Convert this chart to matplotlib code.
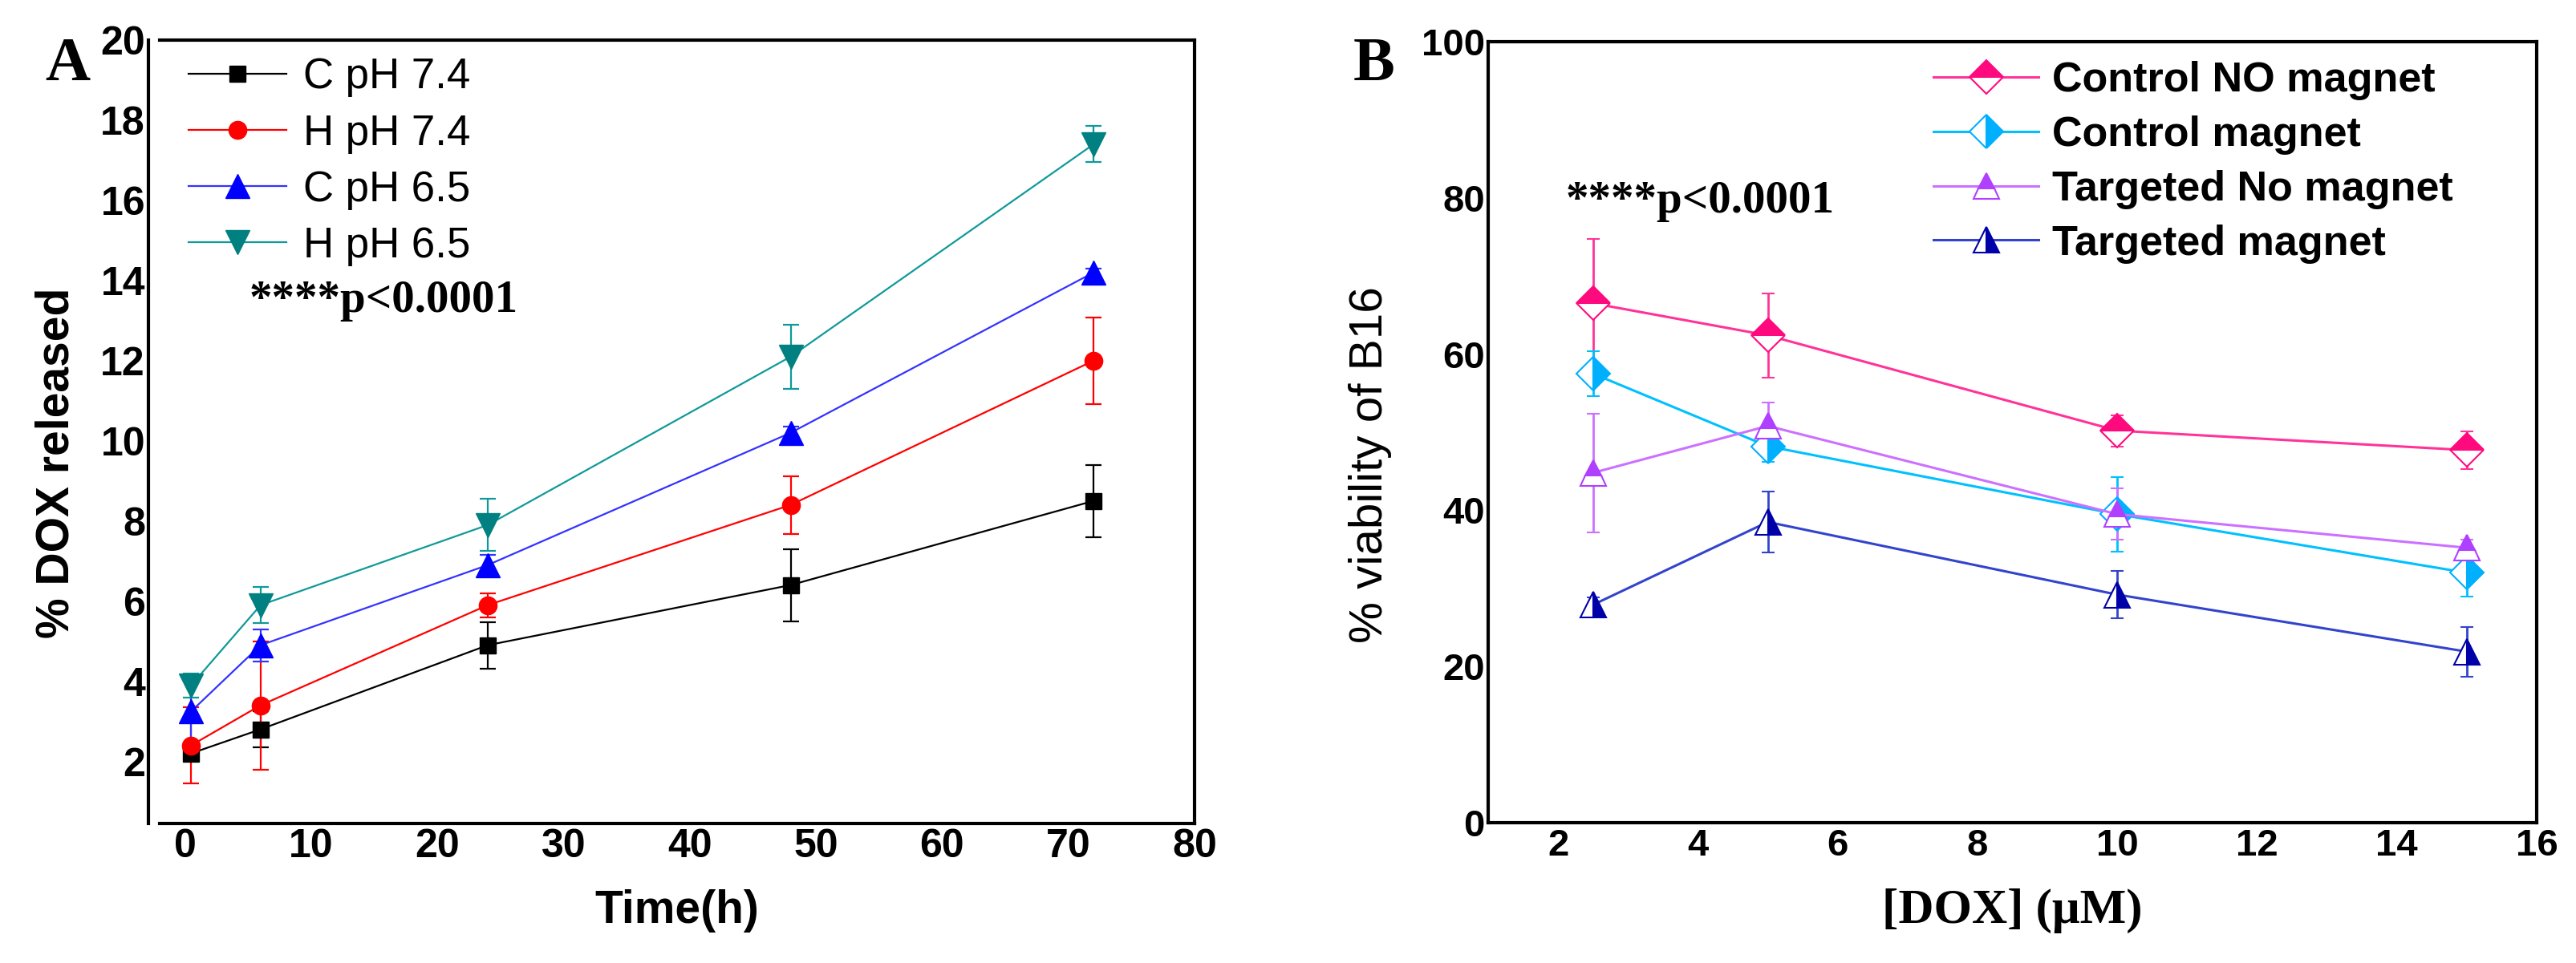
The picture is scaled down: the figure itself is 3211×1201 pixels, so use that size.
import numpy as np
import matplotlib
matplotlib.use('Agg')
import matplotlib.pyplot as plt

W, H = 3211, 1201

# ---- panel A: DOX release vs time
time_h = [0.5, 6, 24, 48, 72]
release_labels = ['C pH 7.4', 'H pH 7.4', 'C pH 6.5', 'H pH 6.5']
c_74 = [2.2, 2.8, 4.9, 6.4, 8.5]
c_74_err = [0.1, 0.45, 0.58, 0.9, 0.9]
h_74 = [2.4, 3.4, 5.9, 8.4, 12.0]
h_74_err = [0.95, 1.6, 0.3, 0.72, 1.08]
c_65 = [3.25, 4.9, 6.9, 10.2, 14.2]
c_65_err = [0.87, 0.4, 0.25, 0.15, 0.1]
h_65 = [3.9, 5.9, 7.9, 12.1, 17.4]
h_65_err = [0.3, 0.45, 0.65, 0.8, 0.45]

# ---- panel B: viability of B16 vs DOX concentration
dox_um = [2.5, 5, 10, 15]
viab_labels = ['Control NO magnet', 'Control magnet', 'Targeted No magnet', 'Targeted magnet']
ctrl_no = [66.5, 62.4, 50.2, 47.7]
ctrl_no_err = [8.2, 5.4, 2.0, 2.4]
ctrl_mag = [57.5, 48.2, 39.5, 32.0]
ctrl_mag_err = [2.9, 2.0, 4.8, 3.0]
targ_no = [44.8, 50.8, 39.5, 35.2]
targ_no_err = [7.6, 3.0, 3.3, 1.0]
targ_mag = [27.9, 38.5, 29.2, 21.9]
targ_mag_err = [1.0, 3.9, 3.0, 3.2]

SANS = 'Liberation Sans'
SERIF = 'Liberation Serif'

fig = plt.figure(figsize=(W / 100, H / 100), dpi=100)

def px_axes(x0, y0, x1, y1):
    return fig.add_axes([x0 / W, 1 - y1 / H, (x1 - x0) / W, (y1 - y0) / H])

# ================= panel A =================
axA = px_axes(199, 50, 1489, 1027)

series_a = [
    (c_74, c_74_err, 's', 'black', 'black', 14),
    (h_74, h_74_err, 'o', '#ff0000', '#ff0000', 16),
    (c_65, c_65_err, '^', '#0000ff', '#3333ff', 22),
    (h_65, h_65_err, 'v', '#008080', '#119999', 22),
]
handles_a = []
for (vals, errs, mk, mcol, lcol, ms), lab in zip(series_a, release_labels):
    cont = axA.errorbar(time_h, vals, yerr=errs, marker=mk, ms=ms,
                        mfc=mcol, mec=mcol, color=lcol, lw=1.6,
                        ecolor=lcol, elinewidth=1.6, capsize=7, capthick=1.6)
    handles_a.append(cont[0])

axA.set_xlim(-2, 80)
axA.set_ylim(0.45, 20)
axA.set_xticks(np.arange(0, 81, 10))
axA.set_yticks(np.arange(2, 21, 2))
for s in axA.spines.values():
    s.set_linewidth(3)
axA.spines['left'].set_position(('outward', 10))
axA.tick_params(length=0, labelsize=36)
axA.tick_params(axis='y', pad=3)
axA.tick_params(axis='x', pad=4)
for t in axA.get_xticklabels() + axA.get_yticklabels():
    t.set_fontfamily(SANS)
    t.set_fontweight('bold')
axA.set_xlabel('Time(h)', fontsize=41, fontweight='bold', family=SANS, labelpad=22)
axA.set_ylabel('% DOX released', fontsize=41, fontweight='bold', family=SANS)
axA.yaxis.set_label_coords(-0.079, 0.46)

legA = axA.legend(handles_a, release_labels, loc='upper left', bbox_to_anchor=(0.028, 0.978),
                  frameon=False, prop={'family': SANS, 'size': 38},
                  handlelength=2.3, handletextpad=0.4, labelspacing=0.38,
                  borderpad=0, borderaxespad=0, numpoints=1)

fig.text(311 / W, 1 - 375 / H, '****p<0.0001', family=SERIF, fontweight='bold',
         fontsize=41, ha='left', va='center')
fig.text(84 / W, 1 - 82 / H, 'A', family=SERIF, fontweight='bold',
         fontsize=56, ha='center', va='center')

# ================= panel B =================
axB = px_axes(1855, 52, 3162, 1026)

series_b = [
    (ctrl_no, ctrl_no_err, 'D', 'top', '#ff0a7e', '#ff3399', 21),
    (ctrl_mag, ctrl_mag_err, 'D', 'right', '#00b0ff', '#00c0ff', 21),
    (targ_no, targ_no_err, '^', 'top', '#b040ff', '#cc70ff', 23),
    (targ_mag, targ_mag_err, '^', 'right', '#0000a8', '#3344cc', 23),
]
handles_b = []
for (vals, errs, mk, fs, mcol, lcol, ms), lab in zip(series_b, viab_labels):
    cont = axB.errorbar(dox_um, vals, yerr=errs, marker=mk, ms=ms, fillstyle=fs,
                        mfc=mcol, mec=mcol, markerfacecoloralt='white', mew=1.5,
                        color=lcol, lw=2.2, ecolor=lcol, elinewidth=2,
                        capsize=6, capthick=2)
    handles_b.append(cont[0])

axB.set_xlim(1, 16)
axB.set_ylim(0, 100)
axB.set_xticks(np.arange(2, 17, 2))
axB.set_yticks(np.arange(0, 101, 20))
for s in axB.spines.values():
    s.set_linewidth(3)
axB.tick_params(length=0, labelsize=34)
axB.tick_params(axis='y', pad=3)
axB.tick_params(axis='x', pad=5)
for t in axB.get_xticklabels() + axB.get_yticklabels():
    t.set_fontfamily(SANS)
    t.set_fontweight('bold')
axB.set_xlabel('[DOX] (\u03bcM)', fontsize=44, fontweight='bold', family=SERIF, labelpad=22)
axB.set_ylabel('% viability of B16', fontsize=42, family=SANS)
axB.yaxis.set_label_coords(-0.092, 0.458)

legB = axB.legend(handles_b, viab_labels, loc='upper left', bbox_to_anchor=(0.425, 0.975),
                  frameon=False, prop={'family': SANS, 'size': 37.5, 'weight': 'bold'},
                  handlelength=2.5, handletextpad=0.33, labelspacing=0.36,
                  borderpad=0, borderaxespad=0, numpoints=1)

fig.text(1952 / W, 1 - 251 / H, '****p<0.0001', family=SERIF, fontweight='bold',
         fontsize=41, ha='left', va='center')
fig.text(1713 / W, 1 - 82 / H, 'B', family=SERIF, fontweight='bold',
         fontsize=56, ha='center', va='center')

fig.savefig('out.png', dpi=100, facecolor='white')
